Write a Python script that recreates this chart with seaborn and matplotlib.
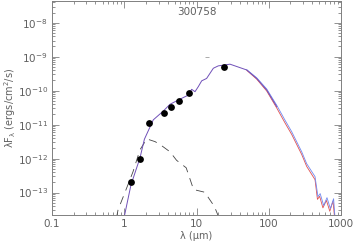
import numpy as np
import pandas as pd
import matplotlib
matplotlib.use("Agg")
import matplotlib.pyplot as plt
import seaborn as sns
from matplotlib.ticker import LogLocator, NullFormatter, FixedLocator, FixedFormatter

# ---- data ----
obs_lam = [1.24, 1.66, 2.17, 3.6, 4.5, 5.8, 8.0, 24.0]
obs_flux = [2.0e-13, 9.8e-13, 1.1e-11, 2.25e-11, 3.25e-11, 5.1e-11, 8.7e-11, 5.0e-10]

model_lam = [0.98, 1.24, 1.65, 1.90, 2.52, 3.47, 4.30, 5.91, 7.71, 8.57, 9.53, 10.6,
             11.8, 13.8, 17.1, 20.0, 29.1, 49.5, 68.1, 93.7, 129]
model_logf = [-13.8, -12.77, -11.98, -11.43, -10.86, -10.60, -10.40, -10.25, -10.13,
              -9.96, -10.03, -9.88, -9.71, -9.64, -9.34, -9.27, -9.22, -9.39, -9.64,
              -9.98, -10.47]

blue_lam = [49.5, 68.1, 93.7, 129, 168, 208, 286, 335, 437, 480, 515, 575, 640, 712, 790, 830]
blue_logf = [-9.38, -9.62, -9.95, -10.43, -10.87, -11.21, -11.80, -12.15, -12.53, -13.12,
             -13.03, -13.38, -13.15, -13.47, -13.18, -13.8]
red_lam = [49.5, 68.1, 93.7, 129, 168, 208, 286, 335, 437, 472, 506, 562, 628, 700, 775, 820]
red_logf = [-9.40, -9.66, -10.01, -10.51, -10.95, -11.29, -11.88, -12.23, -12.62, -13.2,
            -13.11, -13.45, -13.23, -13.55, -13.25, -13.8]

star_lam = [0.78, 0.82, 1.02, 1.32, 1.65, 2.05, 2.67, 3.2, 4.3, 5.3, 7.2, 9.1, 13.0, 17.7, 21.0]
star_logf = [-13.75, -13.51, -13.0, -12.39, -11.74, -11.42, -11.50, -11.60, -11.80, -12.05,
             -12.27, -12.91, -12.99, -13.41, -13.8]

lim_lam = [14.0]
lim_flux = [1.0e-9]

title = "300758"
xticks = [0.1, 1, 10, 100, 1000]
xticklabels = ["0.1", "1", "10", "100", "1000"]
yticks = [1e-13, 1e-12, 1e-11, 1e-10, 1e-9, 1e-8]
yticklabels = [r"$10^{-13}$", r"$10^{-12}$", r"$10^{-11}$", r"$10^{-10}$", r"$10^{-9}$", r"$10^{-8}$"]

# ---- plot ----
sns.set_style("ticks")
plt.rcParams['font.family'] = ['DejaVu Sans']
plt.rcParams['mathtext.default'] = 'regular'
plt.rcParams['lines.scale_dashes'] = False
grey = "#808080"
tgrey = "#606060"

fig = plt.figure(figsize=(3.53, 2.45), dpi=100)
ax = fig.add_axes([52/353, 1-215/245, (341-52)/353, (215-1)/245])

df_m = pd.DataFrame({"lam": model_lam, "f": np.power(10.0, model_logf)})
df_b = pd.DataFrame({"lam": blue_lam, "f": np.power(10.0, blue_logf)})
df_r = pd.DataFrame({"lam": red_lam, "f": np.power(10.0, red_logf)})
df_s = pd.DataFrame({"lam": star_lam, "f": np.power(10.0, star_logf)})
df_o = pd.DataFrame({"lam": obs_lam, "f": obs_flux})

sns.lineplot(data=df_s, x="lam", y="f", ax=ax, color="#444444", lw=0.6,
             sort=False, estimator=None)
ax.lines[-1].set_dashes([6, 4.5])
sns.lineplot(data=df_r, x="lam", y="f", ax=ax, color="#e05050", lw=0.6, sort=False, estimator=None)
sns.lineplot(data=df_b, x="lam", y="f", ax=ax, color="#7088f0", lw=0.6, sort=False, estimator=None)
sns.lineplot(data=df_m, x="lam", y="f", ax=ax, color="#7050b8", lw=0.7, sort=False, estimator=None)
sns.scatterplot(data=df_o, x="lam", y="f", ax=ax, color="black", s=24, edgecolor="black",
                linewidth=0, zorder=5)
ax.plot(lim_lam, lim_flux, marker="_", color="#aaaaaa", ms=3, mew=0.7, ls="none")

ax.set_xscale("log")
ax.set_yscale("log")
ax.set_xlim(0.1, 1000)
ax.set_ylim(10**-13.66, 10**-7.36)

ax.xaxis.set_major_locator(FixedLocator(xticks))
ax.xaxis.set_major_formatter(FixedFormatter(xticklabels))
ax.xaxis.set_minor_locator(LogLocator(base=10, subs=np.arange(2, 10)))
ax.xaxis.set_minor_formatter(NullFormatter())
ax.yaxis.set_major_locator(FixedLocator(yticks))
ax.yaxis.set_major_formatter(FixedFormatter(yticklabels))
ax.yaxis.set_minor_locator(LogLocator(base=10, subs=np.arange(2, 10)))
ax.yaxis.set_minor_formatter(NullFormatter())

ax.tick_params(which="both", direction="in", top=True, right=True, colors=grey,
               labelcolor=tgrey, labelsize=7.5, width=0.6, pad=3)
ax.tick_params(which="major", length=5)
ax.tick_params(which="minor", length=2.5)
for sp in ax.spines.values():
    sp.set_color(grey)
    sp.set_linewidth(0.7)

ax.set_xlabel("λ (μm)", color=tgrey, fontsize=7, labelpad=1)
ax.set_ylabel("λF$_{λ}$ (ergs/cm$^{2}$/s)", color=tgrey, fontsize=7, labelpad=0)
ax.text(10, 10**-7.69, title, ha="center", va="center", color=tgrey, fontsize=7.5)

fig.savefig("out.png", dpi=100)
